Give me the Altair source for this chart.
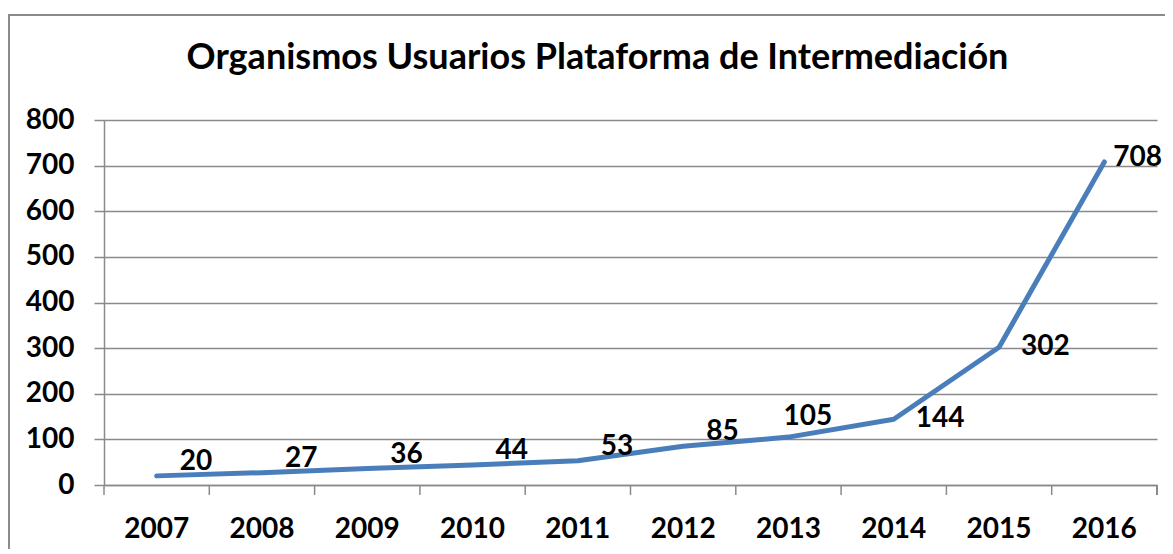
import altair as alt
import pandas as pd

years = ["2007", "2008", "2009", "2010", "2011", "2012", "2013", "2014", "2015", "2016"]
values = [20, 27, 36, 44, 53, 85, 105, 144, 302, 708]
y_ticks = [0, 100, 200, 300, 400, 500, 600, 700, 800]
title_text = "Organismos Usuarios Plataforma de Intermediación"

df = pd.DataFrame({"year": years, "value": values})

FONT = "Lato"
GRID = "#8a8a8a"
W, H = 1053, 365

xscale = alt.Scale(type="band", paddingInner=0, paddingOuter=0, domain=years)
yscale = alt.Scale(domain=[0, 800], nice=False)

base = alt.Chart(df)

line = base.mark_line(color="#4a7ebb", strokeWidth=5, strokeCap="round", strokeJoin="round").encode(
    x=alt.X("year:O", scale=xscale, bandPosition=0.5,
            axis=alt.Axis(title=None, labelAngle=0, ticks=False, tickSize=0, labelPadding=30,
                          labelFont=FONT, labelFontSize=28, labelFontWeight="bold",
                          labelColor="black", domainColor=GRID, domainWidth=1.5, grid=False)),
    y=alt.Y("value:Q", scale=yscale,
            axis=alt.Axis(title=None, values=y_ticks, tickSize=10, tickColor=GRID, tickWidth=1.5,
                          labelPadding=20, labelFont=FONT, labelFontSize=28, labelFontWeight="bold",
                          labelColor="black", domainColor=GRID, domainWidth=1.5,
                          grid=True, gridColor=GRID, gridWidth=1.5)),
)

ticks = base.mark_rule(color=GRID, strokeWidth=1.5).encode(
    x=alt.X("year:O", scale=xscale, bandPosition=0),
    y=alt.value(H), y2=alt.value(H + 10),
)
last_tick = base.mark_rule(color=GRID, strokeWidth=1.5).encode(
    x=alt.value(W), y=alt.value(H), y2=alt.value(H + 10),
)

def labels(sel, dx, dy):
    return base.transform_filter(
        alt.FieldOneOfPredicate(field="year", oneOf=sel)
    ).mark_text(align="left", baseline="middle", dx=dx, dy=dy, font=FONT,
                fontSize=28, fontWeight="bold", color="black").encode(
        x=alt.X("year:O", scale=xscale, bandPosition=0.5),
        y=alt.Y("value:Q", scale=yscale),
        text=alt.Text("value:Q"),
    )

lab1 = labels(years[:6], 23, -14)
lab2 = labels([years[6]], -5, -20)
lab3 = labels(years[7:9], 22, 0)
lab4 = labels([years[9]], 9, -4)

frame = base.mark_rect(fill=None, stroke=GRID, strokeWidth=2).encode(
    x=alt.value(-95), x2=alt.value(W + 40), y=alt.value(-105), y2=alt.value(H + 90),
)

chart = alt.layer(frame, line, ticks, last_tick, lab1, lab2, lab3, lab4).properties(
    width=W, height=H,
    title=alt.TitleParams(title_text, font=FONT, fontSize=36, fontWeight="bold", color="black",
                          anchor="middle", frame="group", dx=-33, offset=0, dy=91,
                          baseline="alphabetic"),
    padding={"left": 96, "top": 112, "right": 8, "bottom": 64},
    autosize=alt.AutoSizeParams(type="none"),
).configure_view(stroke=None)

chart.save("out.html", embed_options={"renderer": "svg", "actions": False})
